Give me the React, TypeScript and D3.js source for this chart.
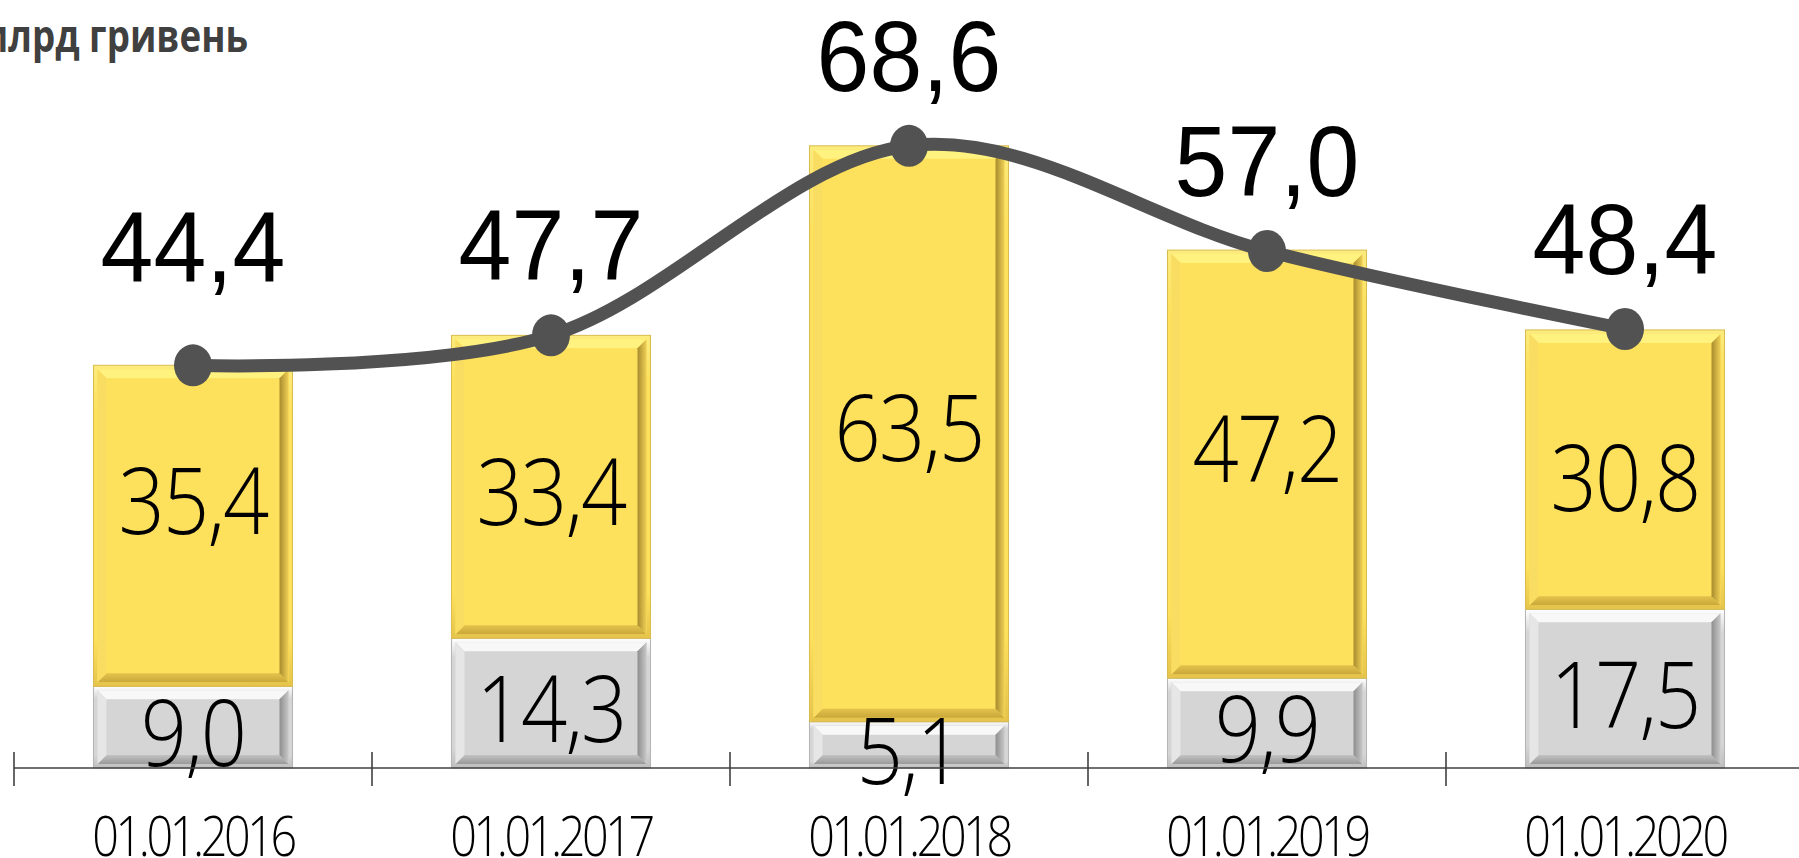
import React from "react";
import * as d3 from "d3";

const categories = ["01.01.2016", "01.01.2017", "01.01.2018", "01.01.2019", "01.01.2020"];
const grayValues = [9.0, 14.3, 5.1, 9.9, 17.5];
const yellowValues = [35.4, 33.4, 63.5, 47.2, 30.8];
const totalValues = [44.4, 47.7, 68.6, 57.0, 48.4];
const unitLabel = "млрд гривень";

// layout nudges (label placement tweaks seen in the reference)
const yellowLabelNudge = [-31, -1, -12, -21, 2];
const totalLabelNudge = [-28, 0, 0, 0, 0];

const W = 1799;
const H = 858;

const fmt = (v: number) => d3.format(".1f")(v).replace(".", ",");

type Pal = {
  frameTop: string; frameBottom: string; edge: string; fill: string;
  top: string; left: string; rightIn: string; rightOut: string; bottomIn: string; bottomOut: string;
};

const yellowPal: Pal = {
  frameTop: "#FCEB7E", frameBottom: "#E6C44C", edge: "#D9BC4E", fill: "#FDE05B",
  top: "#FFF27F", left: "#F9DD62", rightIn: "#A88B2E", rightOut: "#EFD056",
  bottomIn: "#E3C24C", bottomOut: "#C9A83A",
};
const grayPal: Pal = {
  frameTop: "#FFFFFF", frameBottom: "#BEBEBE", edge: "#B4B4B4", fill: "#D5D5D5",
  top: "#F8F8F8", left: "#E6E6E6", rightIn: "#8E8E8E", rightOut: "#C8C8C8",
  bottomIn: "#C2C2C2", bottomOut: "#9A9A9A",
};

function BevelRect({ x, y, w, h, pal, id }: { x: number; y: number; w: number; h: number; pal: Pal; id: string }) {
  const f = 4;
  const b = 9;
  const ix = x + f, iy = y + f, iw = w - 2 * f, ih = h - 2 * f;
  const pts = (a: number[][]) => a.map((p) => p.join(",")).join(" ");
  return (
    <g>
      <defs>
        <linearGradient id={`fr-${id}`} x1="0" y1="0" x2="0" y2="1">
          <stop offset="0" stopColor={pal.frameTop} />
          <stop offset="0.15" stopColor={pal.fill} />
          <stop offset="0.85" stopColor={pal.fill} />
          <stop offset="1" stopColor={pal.frameBottom} />
        </linearGradient>
        <linearGradient id={`rt-${id}`} x1="0" y1="0" x2="1" y2="0">
          <stop offset="0" stopColor={pal.rightIn} />
          <stop offset="1" stopColor={pal.rightOut} />
        </linearGradient>
        <linearGradient id={`bt-${id}`} x1="0" y1="0" x2="0" y2="1">
          <stop offset="0" stopColor={pal.bottomIn} />
          <stop offset="1" stopColor={pal.bottomOut} />
        </linearGradient>
      </defs>
      <rect x={x} y={y} width={w} height={h} fill={`url(#fr-${id})`} stroke={pal.edge} strokeWidth={1} />
      <rect x={ix} y={iy} width={iw} height={ih} fill={pal.fill} />
      <polygon points={pts([[ix, iy], [ix + iw, iy], [ix + iw - b, iy + b], [ix + b, iy + b]])} fill={pal.top} />
      <polygon points={pts([[ix, iy + ih], [ix + iw, iy + ih], [ix + iw - b, iy + ih - b], [ix + b, iy + ih - b]])} fill={`url(#bt-${id})`} />
      <polygon points={pts([[ix, iy], [ix + b, iy + b], [ix + b, iy + ih - b], [ix, iy + ih]])} fill={pal.left} />
      <polygon points={pts([[ix + iw, iy], [ix + iw - b, iy + b], [ix + iw - b, iy + ih - b], [ix + iw, iy + ih]])} fill={`url(#rt-${id})`} />
    </g>
  );
}

function SText({ x, y, sx, children, ...rest }: any) {
  return (
    <text transform={`translate(${x},${y}) scale(${sx},1)`} textAnchor="middle" {...rest}>
      {children}
    </text>
  );
}

export default function App() {
  const step = 358;
  const x0 = 14;
  const x = d3
    .scaleBand<string>()
    .domain(categories)
    .range([x0, x0 + step * categories.length])
    .paddingInner(0.444)
    .paddingOuter(0.222);
  const y = d3.scaleLinear().domain([0, 80]).range([768, 42.4]);
  const cx = (c: string) => (x(c) as number) + x.bandwidth() / 2;

  const line = d3
    .line<number>()
    .x((_, i) => cx(categories[i]))
    .y((d) => y(d))
    .curve(d3.curveCardinal.tension(0));

  const boundaries = d3.range(categories.length + 1).map((i) => x0 + i * x.step());

  return (
    <svg width={W} height={H} style={{ position: "fixed", left: 0, top: 0, background: "#fff" }}>
      <rect x={0} y={0} width={W} height={H} fill="#fff" />
      {/* title */}
      <text
        transform={`translate(248,52) scale(0.835,1)`}
        textAnchor="end"
        fontFamily="'Open Sans', sans-serif"
        fontWeight={700}
        fontSize={44}
        fill="#404040"
      >
        {unitLabel}
      </text>

      {/* bars */}
      {categories.map((c, i) => {
        const bx = x(c) as number;
        const bw = x.bandwidth();
        const g0 = y(0), g1 = y(grayValues[i]);
        const y1 = y(grayValues[i] + yellowValues[i]);
        return (
          <g key={c}>
            <BevelRect x={bx} y={g1} w={bw} h={g0 - g1} pal={grayPal} id={`g${i}`} />
            <BevelRect x={bx} y={y1} w={bw} h={g1 - y1} pal={yellowPal} id={`y${i}`} />
          </g>
        );
      })}

      {/* segment labels */}
      {categories.map((c, i) => {
        const g0 = y(0), g1 = y(grayValues[i]);
        const y1 = y(grayValues[i] + yellowValues[i]);
        return (
          <g key={`l${c}`} fontFamily="'Open Sans', sans-serif" fontWeight={300} fontSize={92} fill="#000" letterSpacing={-2}>
            <SText x={cx(c)} y={(g1 + y1) / 2 + 39 + yellowLabelNudge[i]} sx={0.88}>
              {fmt(yellowValues[i])}
            </SText>
            <SText x={cx(c)} y={(g0 + g1) / 2 + 39} sx={0.88}>
              {fmt(grayValues[i])}
            </SText>
          </g>
        );
      })}

      {/* axis */}
      <line x1={x0} x2={W} y1={y(0)} y2={y(0)} stroke="#404040" strokeWidth={1.6} />
      {boundaries.map((bx, i) => (
        <line key={i} x1={bx} x2={bx} y1={y(0) - 16} y2={y(0) + 18} stroke="#404040" strokeWidth={1.6} />
      ))}
      {categories.map((c) => (
        <SText
          key={`d${c}`}
          x={cx(c)}
          y={856}
          sx={0.85}
          fontFamily="'Open Sans', sans-serif"
          fontWeight={300}
          fontSize={55}
          letterSpacing={-4}
          fill="#000"
        >
          {c}
        </SText>
      ))}

      {/* total line */}
      <path d={line(totalValues) || ""} fill="none" stroke="#525252" strokeWidth={13} />
      {totalValues.map((v, i) => (
        <ellipse key={`p${i}`} cx={cx(categories[i])} cy={y(v)} rx={19} ry={21} fill="#525252" />
      ))}
      {totalValues.map((v, i) => (
        <SText
          key={`t${i}`}
          x={cx(categories[i])}
          y={y(v) - 55 + totalLabelNudge[i]}
          sx={0.95}
          fontFamily="'Liberation Sans', Arial, sans-serif"
          fontSize={100}
          fill="#000"
        >
          {fmt(v)}
        </SText>
      ))}
    </svg>
  );
}
